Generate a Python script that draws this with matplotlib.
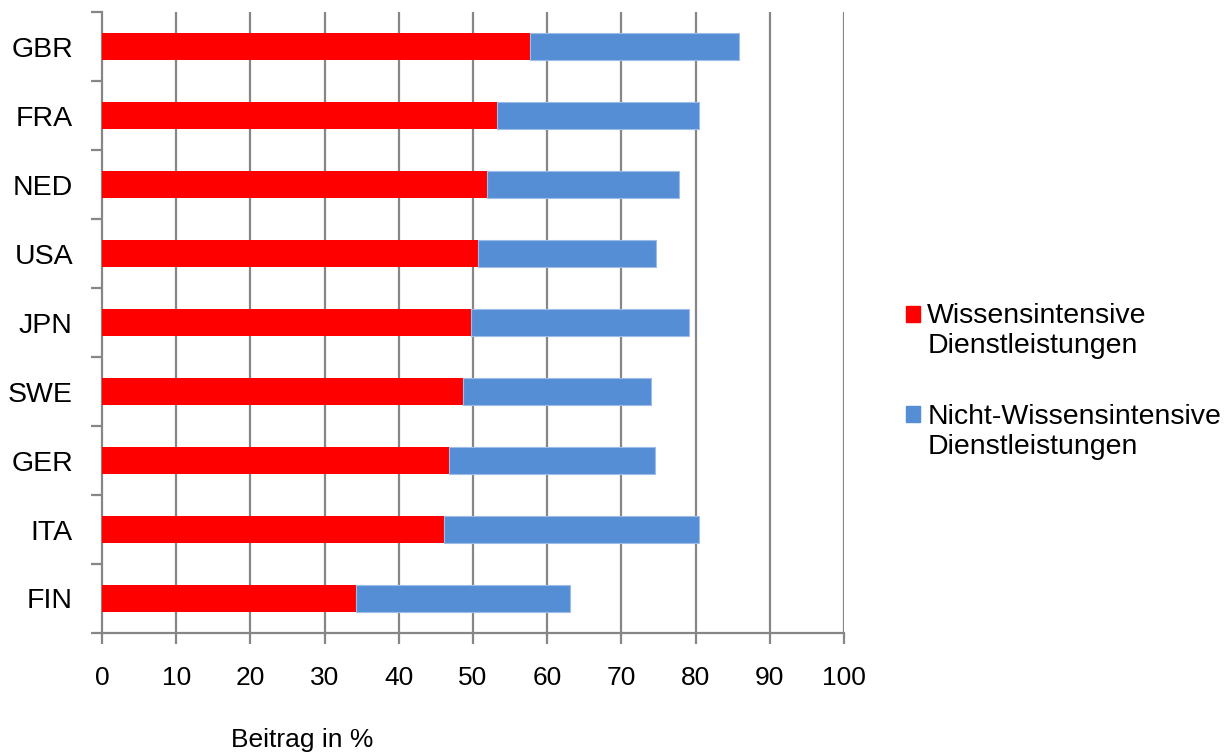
import matplotlib
matplotlib.use("Agg")
import matplotlib.pyplot as plt
import matplotlib.patches as mpatches
from matplotlib.legend_handler import HandlerPatch
import numpy as np

plt.rcParams['font.family'] = ['Liberation Sans', 'DejaVu Sans']

# Länder von oben nach unten
laender = ["GBR", "FRA", "NED", "USA", "JPN", "SWE", "GER", "ITA", "FIN"]
wissen = [57.7, 53.2, 51.9, 50.7, 49.7, 48.7, 46.8, 46.1, 34.2]
nicht_wissen = [28.2, 27.3, 25.8, 23.9, 29.4, 25.3, 27.7, 34.4, 28.9]
xticks = [0, 10, 20, 30, 40, 50, 60, 70, 80, 90, 100]
namen = ["Wissensintensive\nDienstleistungen", "Nicht-Wissensintensive\nDienstleistungen"]

grau = "#868686"
rot = "#FF0000"
blau = "#558ED5"

fig = plt.figure(figsize=(12.31, 7.56), dpi=100)
ax = fig.add_axes([0.0829, 0.1627, 0.6027, 0.8214])

y = np.arange(len(laender))
ax.barh(y, wissen, height=0.4, color=rot, zorder=3)
ax.barh(y, nicht_wissen, left=wissen, height=0.4, color=blau, edgecolor="#9DBDE8",
        linewidth=0.8, zorder=3)

ax.set_xlim(0, 100)
ax.set_ylim(len(laender) - 0.5, -0.5)

# Gitterlinien
for xv in xticks[1:]:
    ax.axvline(xv, color=grau, linewidth=1.6, zorder=1)

for s in ["top", "right"]:
    ax.spines[s].set_visible(False)
for s in ["left", "bottom"]:
    ax.spines[s].set_color(grau)
    ax.spines[s].set_linewidth(1.6)

ax.set_xticks(xticks)
ax.set_xticklabels([str(v) for v in xticks], fontsize=19)
ax.tick_params(axis='x', direction='out', length=8, width=1.6, color=grau, pad=16)

ax.set_yticks(y)
ax.set_yticklabels(laender, fontsize=20.5)
ax.tick_params(axis='y', which='major', length=0, pad=21)
ax.set_yticks(np.arange(len(laender) + 1) - 0.5, minor=True)
ax.tick_params(axis='y', which='minor', direction='out', length=8, width=1.6, color=grau)

fig.text(302 / 1231, 1 - 740 / 756, "Beitrag in %", ha='center', va='center', fontsize=19)


# Legendenquadrat auf Höhe der ersten Textzeile
def quadrat(legend, orig_handle, xdescent, ydescent, width, height, fontsize):
    return mpatches.Rectangle((-xdescent, -ydescent + 0.62 * fontsize), width, height)


handles = [mpatches.Patch(color=rot, label=namen[0]),
           mpatches.Patch(color=blau, label=namen[1])]
leg = ax.legend(handles=handles, loc='center left', bbox_to_anchor=(1.049, 0.405),
                frameon=False, fontsize=20.5, handlelength=0.5, handleheight=0.5,
                handletextpad=0.25, labelspacing=1.55,
                handler_map={mpatches.Patch: HandlerPatch(patch_func=quadrat)})
for t in leg.get_texts():
    t.set_linespacing(1.2)

plt.savefig("out.png", dpi=100)
